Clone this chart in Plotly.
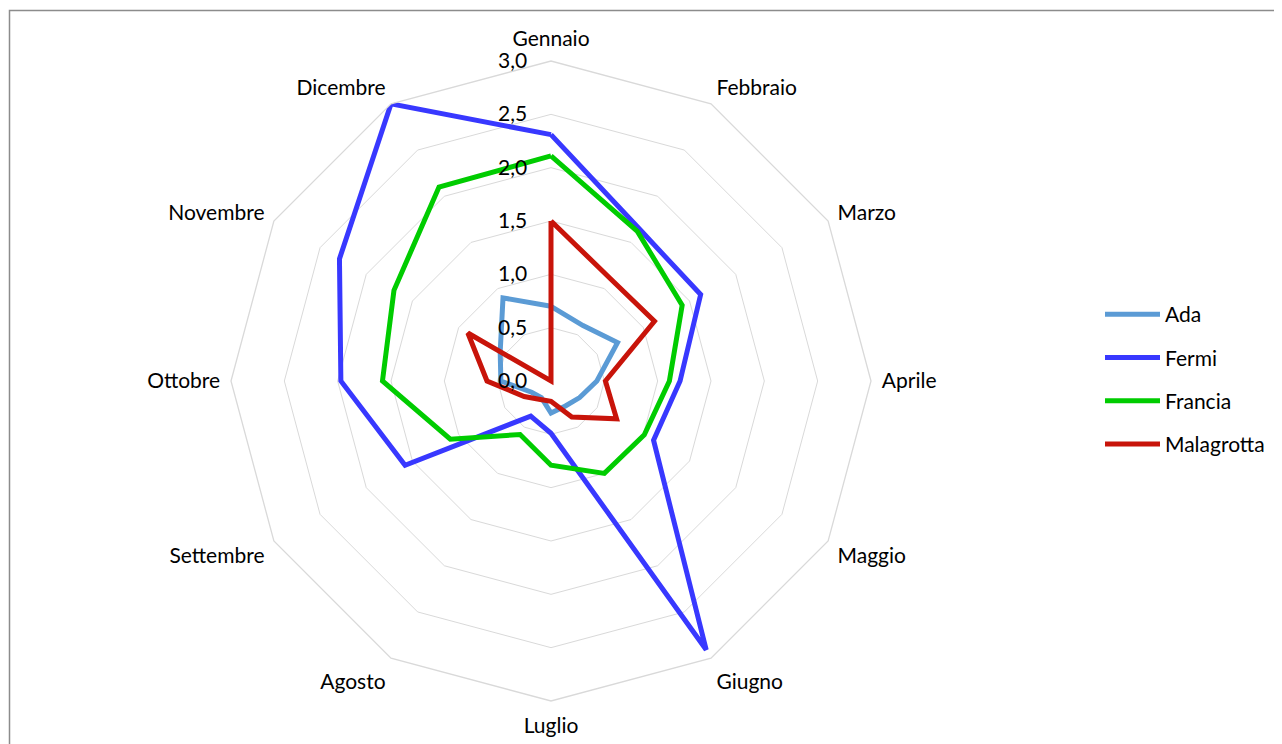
import plotly.graph_objects as go

months = ["Gennaio", "Febbraio", "Marzo", "Aprile", "Maggio", "Giugno",
          "Luglio", "Agosto", "Settembre", "Ottobre", "Novembre", "Dicembre"]

ada = [0.70, 0.60, 0.72, 0.43, 0.31, 0.27, 0.30, 0.18, 0.21, 0.47, 0.55, 0.90]
fermi = [2.31, 1.65, 1.62, 1.21, 1.11, 2.91, 0.49, 0.38, 1.58, 1.97, 2.29, 3.00]
francia = [2.11, 1.62, 1.42, 1.11, 1.01, 1.00, 0.79, 0.58, 1.09, 1.58, 1.70, 2.10]
malagrotta = [1.50, 1.11, 1.12, 0.51, 0.71, 0.39, 0.19, 0.20, 0.29, 0.60, 0.90, 0.00]

series = [("Ada", ada, "#5B9BD5"),
          ("Fermi", fermi, "#3838FF"),
          ("Francia", francia, "#00CC00"),
          ("Malagrotta", malagrotta, "#C8140A")]

# the page body has an 8px margin; work in reference pixels minus that offset
OFF = 8
W, H = 1282 - OFF, 744 - OFF
cx, cy, R = 551 - OFF, 381 - OFF, 320

fig = go.Figure()
for name, vals, col in series:
    fig.add_trace(go.Scatterpolar(
        r=vals + vals[:1], theta=months + months[:1], mode="lines",
        name=name, legendgroup=name,
        line=dict(color=col, width=5),
    ))

font = "Lato"
fs = 21
fig.update_layout(
    width=W, height=H,
    margin=dict(l=0, r=0, t=0, b=0),
    paper_bgcolor="white",
    separators=",.",
    font=dict(family=font, size=fs, color="#000000"),
    polar=dict(
        domain=dict(x=[(cx - R) / W, (cx + R) / W],
                    y=[(H - cy - R) / H, (H - cy + R) / H]),
        bgcolor="white",
        gridshape="linear",
        angularaxis=dict(rotation=90, direction="clockwise",
                         showgrid=False, showline=True,
                         linecolor="#D9D9D9", linewidth=1.3,
                         ticks="outside", ticklen=6,
                         tickcolor="rgba(0,0,0,0)",
                         tickfont=dict(size=fs)),
        radialaxis=dict(range=[0, 3], dtick=0.5, tickformat=".1f",
                        angle=90, tickangle=90, side="counterclockwise",
                        showline=False, ticks="outside", ticklen=16,
                        tickcolor="rgba(0,0,0,0)",
                        gridcolor="#D9D9D9", gridwidth=1.3,
                        tickfont=dict(size=fs)),
    ),
    legend=dict(x=(1100 - OFF) / W, y=1 - (294 - OFF) / H,
                xanchor="left", yanchor="top",
                font=dict(size=fs), tracegroupgap=13, itemwidth=55,
                bgcolor="rgba(0,0,0,0)"),
    shapes=[dict(type="rect", xref="paper", yref="paper",
                 x0=(9.5 - OFF) / W, x1=1.02, y0=-0.02, y1=1 - (10.5 - OFF) / H,
                 line=dict(color="#8C8C8C", width=1.5))],
)

fig.write_html("out.html")
